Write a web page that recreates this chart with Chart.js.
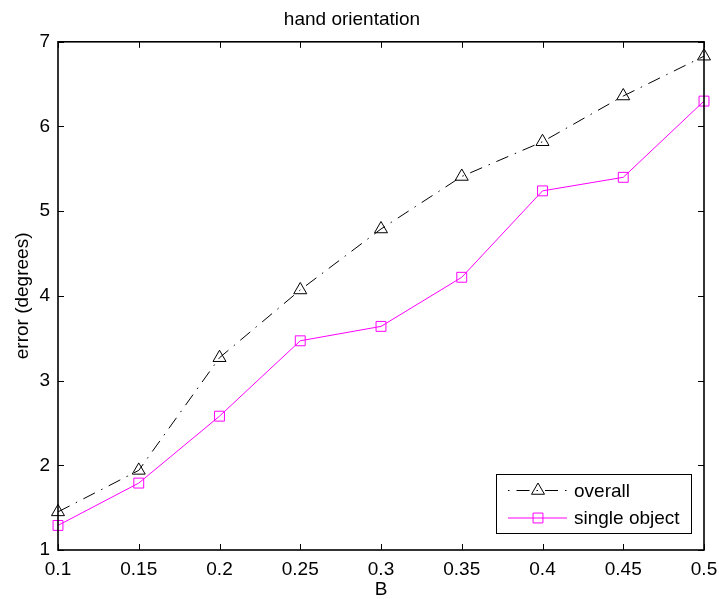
<!DOCTYPE html>
<html>
<head>
<meta charset="utf-8">
<script src="https://cdn.jsdelivr.net/npm/chart.js@4.4.1/dist/chart.umd.min.js"></script>
<style>
    html, body { margin: 0; padding: 0; background: #fff; }
</style>
</head>
<body>
<canvas id="chart" width="719" height="599"></canvas>
<script>
// data
const bValues = [0.1, 0.15, 0.2, 0.25, 0.3, 0.35, 0.4, 0.45, 0.5];
const overallError = [1.45, 1.94, 3.27, 4.07, 4.79, 5.41, 5.82, 6.36, 6.83];
const singleObjectError = [1.29, 1.79, 2.58, 3.47, 3.64, 4.22, 5.24, 5.40, 6.30];
const xTickLabels = ['0.1', '0.15', '0.2', '0.25', '0.3', '0.35', '0.4', '0.45', '0.5'];
const yTickValues = [1, 2, 3, 4, 5, 6, 7];

const FONT = 'Liberation Sans, Arial, Helvetica, sans-serif';
const TICK_LEN = 6;

function toPoints(xs, ys) {
    return xs.map((x, i) => ({x: x, y: ys[i]}));
}

// matlab style box with inward ticks on every side
const boxPlugin = {
    id: 'matlabBox',
    afterDatasetsDraw(chart) {
        const ctx = chart.ctx;
        const a = chart.chartArea;
        const xs = chart.scales.x;
        const ys = chart.scales.y;
        ctx.save();
        ctx.strokeStyle = '#000';
        ctx.lineWidth = 1;
        xs.ticks.forEach((t) => {
            const px = Math.round(xs.getPixelForValue(t.value)) + 0.5;
            ctx.beginPath();
            ctx.moveTo(px, a.bottom);
            ctx.lineTo(px, a.bottom - TICK_LEN);
            ctx.moveTo(px, a.top);
            ctx.lineTo(px, a.top + TICK_LEN);
            ctx.stroke();
        });
        ys.ticks.forEach((t) => {
            const py = Math.round(ys.getPixelForValue(t.value)) + 0.5;
            ctx.beginPath();
            ctx.moveTo(a.left, py);
            ctx.lineTo(a.left + TICK_LEN, py);
            ctx.moveTo(a.right, py);
            ctx.lineTo(a.right - TICK_LEN, py);
            ctx.stroke();
        });
        ctx.lineWidth = 1.6;
        ctx.strokeRect(a.left, a.top, a.right - a.left, a.bottom - a.top);
        ctx.restore();
    }
};

// legend box in the lower right corner of the axes
const legendPlugin = {
    id: 'matlabLegend',
    afterDraw(chart) {
        const ctx = chart.ctx;
        const a = chart.chartArea;
        const w = 195, h = 59;
        const bx = a.right - 13 - w;
        const by = a.bottom - 17 - h;
        ctx.save();
        ctx.fillStyle = '#fff';
        ctx.fillRect(bx, by, w, h);
        ctx.strokeStyle = '#000';
        ctx.lineWidth = 1;
        ctx.strokeRect(bx + 0.5, by + 0.5, w, h);
        chart.data.datasets.forEach((ds, i) => {
            const ly = by + 16.5 + i * 27.5;
            ctx.strokeStyle = ds.borderColor;
            ctx.lineWidth = ds.borderWidth;
            ctx.setLineDash(ds.borderDash || []);
            // start the sample on the dot so it reads ". -^- ."
            ctx.lineDashOffset = ds.borderDash ? 20 : 0;
            ctx.beginPath();
            ctx.moveTo(bx + 12, ly);
            ctx.lineTo(bx + 71, ly);
            ctx.stroke();
            ctx.setLineDash([]);
            ctx.strokeStyle = ds.pointBorderColor;
            ctx.fillStyle = 'rgba(0,0,0,0)';
            Chart.helpers.drawPoint(ctx, {
                pointStyle: ds.pointStyle,
                radius: ds.pointRadius,
                rotation: 0,
                borderWidth: 1
            }, bx + 42, ly);
            ctx.fillStyle = '#000';
            ctx.font = '19px ' + FONT;
            ctx.textBaseline = 'middle';
            ctx.textAlign = 'left';
            ctx.fillText(ds.label, bx + 78, ly + 1);
        });
        ctx.restore();
    }
};

new Chart(document.getElementById('chart'), {
    type: 'line',
    data: {
        datasets: [
            {
                label: 'overall',
                data: toPoints(bValues, overallError),
                borderColor: '#000000',
                borderWidth: 1,
                borderDash: [13, 7, 1.5, 7],
                pointStyle: 'triangle',
                pointRadius: 7.5,
                pointBorderColor: '#000000',
                pointBackgroundColor: 'rgba(0,0,0,0)',
                pointBorderWidth: 1,
                tension: 0,
                clip: false
            },
            {
                label: 'single object',
                data: toPoints(bValues, singleObjectError),
                borderColor: '#ff00ff',
                borderWidth: 1,
                pointStyle: 'rect',
                pointRadius: 7,
                pointBorderColor: '#ff00ff',
                pointBackgroundColor: 'rgba(0,0,0,0)',
                pointBorderWidth: 1,
                tension: 0,
                clip: false
            }
        ]
    },
    options: {
        responsive: false,
        animation: false,
        layout: {padding: {top: 0, right: 15, bottom: 0, left: 0}},
        plugins: {
            legend: {display: false},
            tooltip: {enabled: false},
            title: {
                display: true,
                text: 'hand orientation',
                color: '#000',
                font: {family: FONT, size: 19, weight: 'normal'},
                padding: {top: 8, bottom: 11}
            }
        },
        scales: {
            x: {
                type: 'linear',
                min: 0.1,
                max: 0.5,
                afterBuildTicks(scale) {
                    scale.ticks = bValues.map((v) => ({value: v}));
                },
                afterFit(scale) {
                    scale.height = 49;
                    scale.paddingLeft = 0;
                    scale.paddingRight = 0;
                },
                ticks: {
                    color: '#000',
                    padding: 8,
                    maxRotation: 0,
                    autoSkip: false,
                    font: {family: FONT, size: 19},
                    callback: (v, i) => xTickLabels[i]
                },
                grid: {display: false, drawTicks: false},
                border: {display: false},
                title: {
                    display: true,
                    text: 'B',
                    color: '#000',
                    font: {family: FONT, size: 19, lineHeight: 1},
                    padding: 0
                }
            },
            y: {
                type: 'linear',
                min: 1,
                max: 7,
                afterBuildTicks(scale) {
                    scale.ticks = yTickValues.map((v) => ({value: v}));
                },
                afterFit(scale) {
                    scale.width = 58;
                    scale.paddingTop = 0;
                    scale.paddingBottom = 0;
                },
                ticks: {
                    color: '#000',
                    padding: 8,
                    font: {family: FONT, size: 19},
                    callback: (v) => String(v)
                },
                grid: {display: false, drawTicks: false},
                border: {display: false},
                title: {
                    display: true,
                    text: 'error (degrees)',
                    color: '#000',
                    font: {family: FONT, size: 19},
                    padding: {top: 11, bottom: 0}
                }
            }
        }
    },
    plugins: [boxPlugin, legendPlugin]
});
</script>
</body>
</html>
